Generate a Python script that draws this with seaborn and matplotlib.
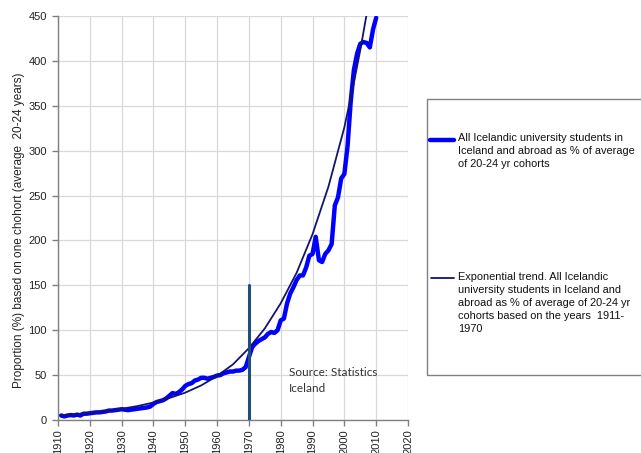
import matplotlib
matplotlib.use("Agg")
import matplotlib.pyplot as plt
from matplotlib.lines import Line2D
from matplotlib.patches import Rectangle
import seaborn as sns
import pandas as pd

years = list(range(1911, 2011))
students = [5, 4, 5, 5.5, 5, 6, 5, 7, 7, 7.5,
            8, 8.5, 8.5, 9, 9.5, 10.5, 10.5, 11, 11.5, 12,
            11.5, 11, 11.5, 12, 12.5, 13, 13.5, 14, 15, 18,
            20, 21, 22, 24, 27, 30, 29, 31, 34, 38,
            40, 41, 44, 45, 47, 47, 46, 47, 48, 49.5,
            50, 52, 53, 54, 54, 55, 55, 56, 59, 70,
            81, 85, 88, 90, 92, 96, 98, 97, 100, 111,
            113, 130, 141, 148, 156, 161, 161, 170, 183, 185,
            204, 178, 176, 185, 189, 196, 239, 248, 269, 274,
            305, 355, 390, 408, 419, 421, 420, 415, 435, 448]

trend_years = [1911, 1915, 1920, 1925, 1930, 1935, 1940, 1945, 1950, 1955,
               1960, 1965, 1970, 1975, 1980, 1985, 1990, 1995, 2000, 2003,
               2005, 2007]
trend_vals = [5, 6.3, 8, 10, 12.5, 15.5, 19.5, 24.5, 30.5, 38.5,
              49, 62, 80, 102, 130, 164, 207, 260, 326, 376,
              412, 452]

marker_year = [1970, 1970]
marker_vals = [0, 150]

xticks = list(range(1910, 2021, 10))
yticks = list(range(0, 451, 50))

label_students = "All Icelandic university students in\nIceland and abroad as % of average\nof 20-24 yr cohorts"
label_trend = ("Exponential trend. All Icelandic\nuniversity students in Iceland and\n"
               "abroad as % of average of 20-24 yr\ncohorts based on the years  1911-\n1970")

sns.set_theme(style="white")
plt.rcParams['font.family'] = ['Liberation Sans', 'DejaVu Sans']

W, H = 641, 453
fig = plt.figure(figsize=(W / 100, H / 100), dpi=100)
ax = fig.add_axes([58 / W, 1 - 420 / H, 350 / W, 404 / H])

df_s = pd.DataFrame({"year": years, "val": students})
df_t = pd.DataFrame({"year": trend_years, "val": trend_vals})

sns.lineplot(data=df_s, x="year", y="val", ax=ax, color="#0000ff", lw=3.2,
             zorder=4, legend=False)
sns.lineplot(data=df_t, x="year", y="val", ax=ax, color="#14146e", lw=1.3,
             zorder=5, legend=False)
ax.plot(marker_year, marker_vals, color="#1f4e79", lw=2.2, zorder=6)

ax.set_xlim(1910, 2020)
ax.set_ylim(0, 450)
ax.set_xticks(xticks)
ax.set_yticks(yticks)
ax.set_xticklabels([str(x) for x in xticks], rotation=90, fontsize=8, color="#222222")
ax.set_yticklabels([str(y) for y in yticks], fontsize=8, color="#222222")
ax.set_xlabel("")
ax.set_ylabel("Proportion (%) based on one chohort (average  20-24 years)", fontsize=8.5,
              color="#222222")
ax.yaxis.set_label_coords(-33 / 350, (420 - 230) / 404)
ax.grid(True, color="#d9d9d9", lw=0.9)
for s in ["top", "right"]:
    ax.spines[s].set_visible(False)
for s in ["left", "bottom"]:
    ax.spines[s].set_color("#808080")
    ax.spines[s].set_linewidth(1.0)
ax.tick_params(axis="y", which="major", direction="out", length=4, width=1,
               color="#808080", pad=4, left=True)
ax.tick_params(axis="x", which="major", direction="out", length=4, width=1,
               color="#808080", pad=3, bottom=True)

ax.text(1982.5, 29, "Source: Statistics\nIceland", fontsize=8.5, color="#333333",
        family=['Lato', 'DejaVu Sans'], va="bottom", ha="left", linespacing=1.6)

# legend box drawn in figure pixels
def fx(px):
    return px / W

def fy(py):
    return 1 - py / H

fig.patches.append(Rectangle((fx(427), fy(375)), fx(700) - fx(427), fy(99) - fy(375),
                             transform=fig.transFigure, fill=False,
                             edgecolor="#808080", lw=1.0, clip_on=False))
fig.lines.append(Line2D([fx(430), fx(454)], [fy(140), fy(140)], transform=fig.transFigure,
                        color="#0000ff", lw=3.2, solid_capstyle="round"))
fig.lines.append(Line2D([fx(431), fx(454)], [fy(277.5), fy(277.5)], transform=fig.transFigure,
                        color="#14146e", lw=1.3))
fig.text(fx(458), fy(133), label_students, fontsize=7.9, color="#111111",
         va="top", ha="left", linespacing=1.38)
fig.text(fx(458), fy(271.5), label_trend, fontsize=7.9, color="#111111",
         va="top", ha="left", linespacing=1.38)

fig.savefig("out.png", dpi=100)
